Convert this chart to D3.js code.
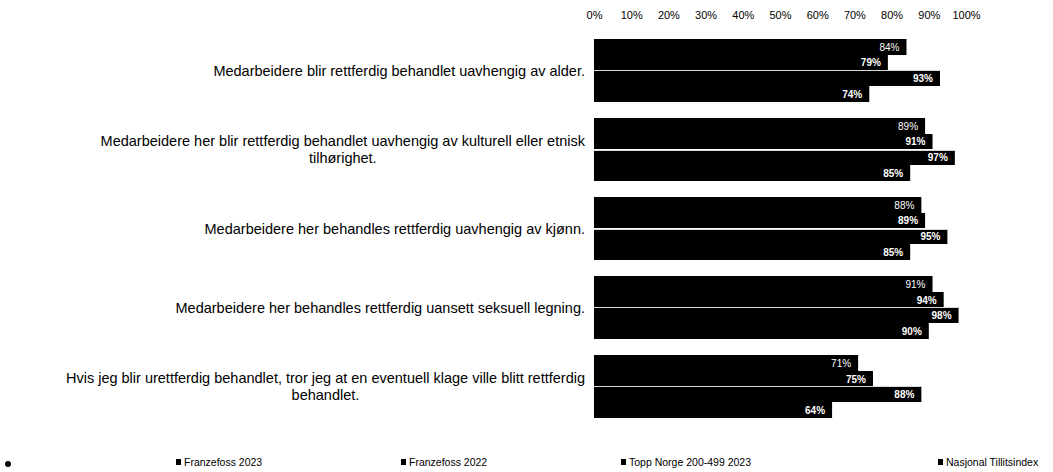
<!DOCTYPE html>
<html>
<head>
<meta charset="utf-8">
<script src="https://cdn.jsdelivr.net/npm/d3@7"></script>
<style>
  body { margin: 0; background: #fff; }
  svg { display: block; font-family: "Liberation Sans", Arial, sans-serif; }
</style>
</head>
<body>
<div id="chart"></div>
<script>
// Chart data
const questions = [
    ["Medarbeidere blir rettferdig behandlet uavhengig av alder."],
    ["Medarbeidere her blir rettferdig behandlet uavhengig av kulturell eller etnisk", "tilhørighet."],
    ["Medarbeidere her behandles rettferdig uavhengig av kjønn."],
    ["Medarbeidere her behandles rettferdig uansett seksuell legning."],
    ["Hvis jeg blir urettferdig behandlet, tror jeg at en eventuell klage ville blitt rettferdig", "behandlet."]
];
const seriesNames = ["Franzefoss 2023", "Franzefoss 2022", "Topp Norge 200-499 2023", "Nasjonal Tillitsindex"];
const franzefoss2023 = [0.84, 0.89, 0.88, 0.91, 0.71];
const franzefoss2022 = [0.79, 0.91, 0.89, 0.94, 0.75];
const toppNorge2023 = [0.93, 0.97, 0.95, 0.98, 0.88];
const nasjonalIndex = [0.74, 0.85, 0.85, 0.90, 0.64];
const xTicks = [0, 0.1, 0.2, 0.3, 0.4, 0.5, 0.6, 0.7, 0.8, 0.9, 1.0];

const seriesValues = [franzefoss2023, franzefoss2022, toppNorge2023, nasjonalIndex];

const width = 1053;
const height = 472;

const svg = d3.select("#chart")
    .append("svg")
    .attr("width", width)
    .attr("height", height);

svg.append("rect")
    .attr("width", width)
    .attr("height", height)
    .attr("fill", "#fff");

// Scales
const x = d3.scaleLinear()
    .domain([0, 1])
    .range([594, 966]);

const y0 = d3.scaleBand()
    .domain(d3.range(questions.length))
    .range([31, 426])
    .paddingInner(0.21)
    .paddingOuter(0.105);

const y1 = d3.scaleBand()
    .domain(d3.range(seriesNames.length))
    .range([0, y0.bandwidth()]);

// snap bar edges to whole pixels so neighbouring bars don't leave seams
const barTop = (g, s) => Math.round(y0(g) + y1(s));
const barBottom = (g, s) => Math.round(y0(g) + y1(s) + y1.bandwidth());

// Top axis with percent labels
const axis = svg.append("g")
    .attr("transform", "translate(0,22)")
    .call(d3.axisTop(x)
        .tickValues(xTicks)
        .tickFormat(d3.format(".0%"))
        .tickSize(0)
        .tickPadding(3));
axis.select(".domain").remove();
axis.selectAll("text")
    .attr("font-family", "Liberation Sans, Arial, sans-serif")
    .attr("font-size", "11px")
    .attr("fill", "#000");

// Bars
const rows = questions.map((q, i) => ({
    index: i,
    values: seriesValues.map((s, j) => ({ group: i, series: j, value: s[i] }))
}));

const group = svg.append("g")
    .selectAll("g")
    .data(rows)
    .join("g");

group.selectAll("rect")
    .data(d => d.values)
    .join("rect")
    .attr("x", x(0))
    .attr("y", d => barTop(d.group, d.series))
    .attr("width", d => x(d.value) - x(0))
    .attr("height", d => barBottom(d.group, d.series) - barTop(d.group, d.series))
    .attr("fill", "#000");

// thin white split between the two pairs of bars
group.append("line")
    .attr("x1", x(0))
    .attr("x2", d => x(d3.max(d.values, v => v.value)))
    .attr("y1", d => barTop(d.index, 2) + 0.5)
    .attr("y2", d => barTop(d.index, 2) + 0.5)
    .attr("stroke", "#fff")
    .attr("stroke-width", 1)
    .attr("stroke-opacity", 0.85);

// Value labels inside bars
group.selectAll("text.val")
    .data(d => d.values)
    .join("text")
    .attr("class", "val")
    .attr("x", d => x(d.value) - 7)
    .attr("y", d => (barTop(d.group, d.series) + barBottom(d.group, d.series)) / 2)
    .attr("dy", "0.35em")
    .attr("text-anchor", "end")
    .attr("fill", "#fff")
    .attr("font-size", "10px")
    .attr("font-weight", d => d.series === 0 ? "normal" : "bold")
    .text(d => d3.format(".0%")(d.value));

// Question labels, right-aligned block with centered lines
const labelRight = 585;
const lineHeight = 17;
const labels = svg.append("g")
    .selectAll("text")
    .data(rows)
    .join("text")
    .attr("font-size", "14.5px")
    .attr("fill", "#000")
    .attr("text-anchor", "middle");

labels.each(function(d) {
    const t = d3.select(this);
    const lines = questions[d.index];
    const cy = y0(d.index) + y0.bandwidth() / 2;
    lines.forEach((line, k) => {
        t.append("tspan")
            .attr("y", cy + (k - (lines.length - 1) / 2) * lineHeight)
            .attr("dy", "0.35em")
            .text(line);
    });
    const maxW = d3.max(t.selectAll("tspan").nodes(), n => n.getComputedTextLength());
    t.selectAll("tspan").attr("x", labelRight - maxW / 2);
});

// Legend
const legendX = [176, 401, 621, 938];
const legend = svg.append("g")
    .selectAll("g")
    .data(seriesNames)
    .join("g")
    .attr("transform", (d, i) => `translate(${legendX[i]},462)`);

legend.append("rect")
    .attr("x", 0)
    .attr("y", -3)
    .attr("width", 5)
    .attr("height", 6)
    .attr("fill", "#000");

legend.append("text")
    .attr("x", 8)
    .attr("dy", "0.35em")
    .attr("font-size", "10.5px")
    .attr("fill", "#000")
    .text(d => d);

// small dot at bottom-left corner of the scan
svg.append("circle")
    .attr("cx", 8)
    .attr("cy", 464)
    .attr("r", 3)
    .attr("fill", "#000");
</script>
</body>
</html>
